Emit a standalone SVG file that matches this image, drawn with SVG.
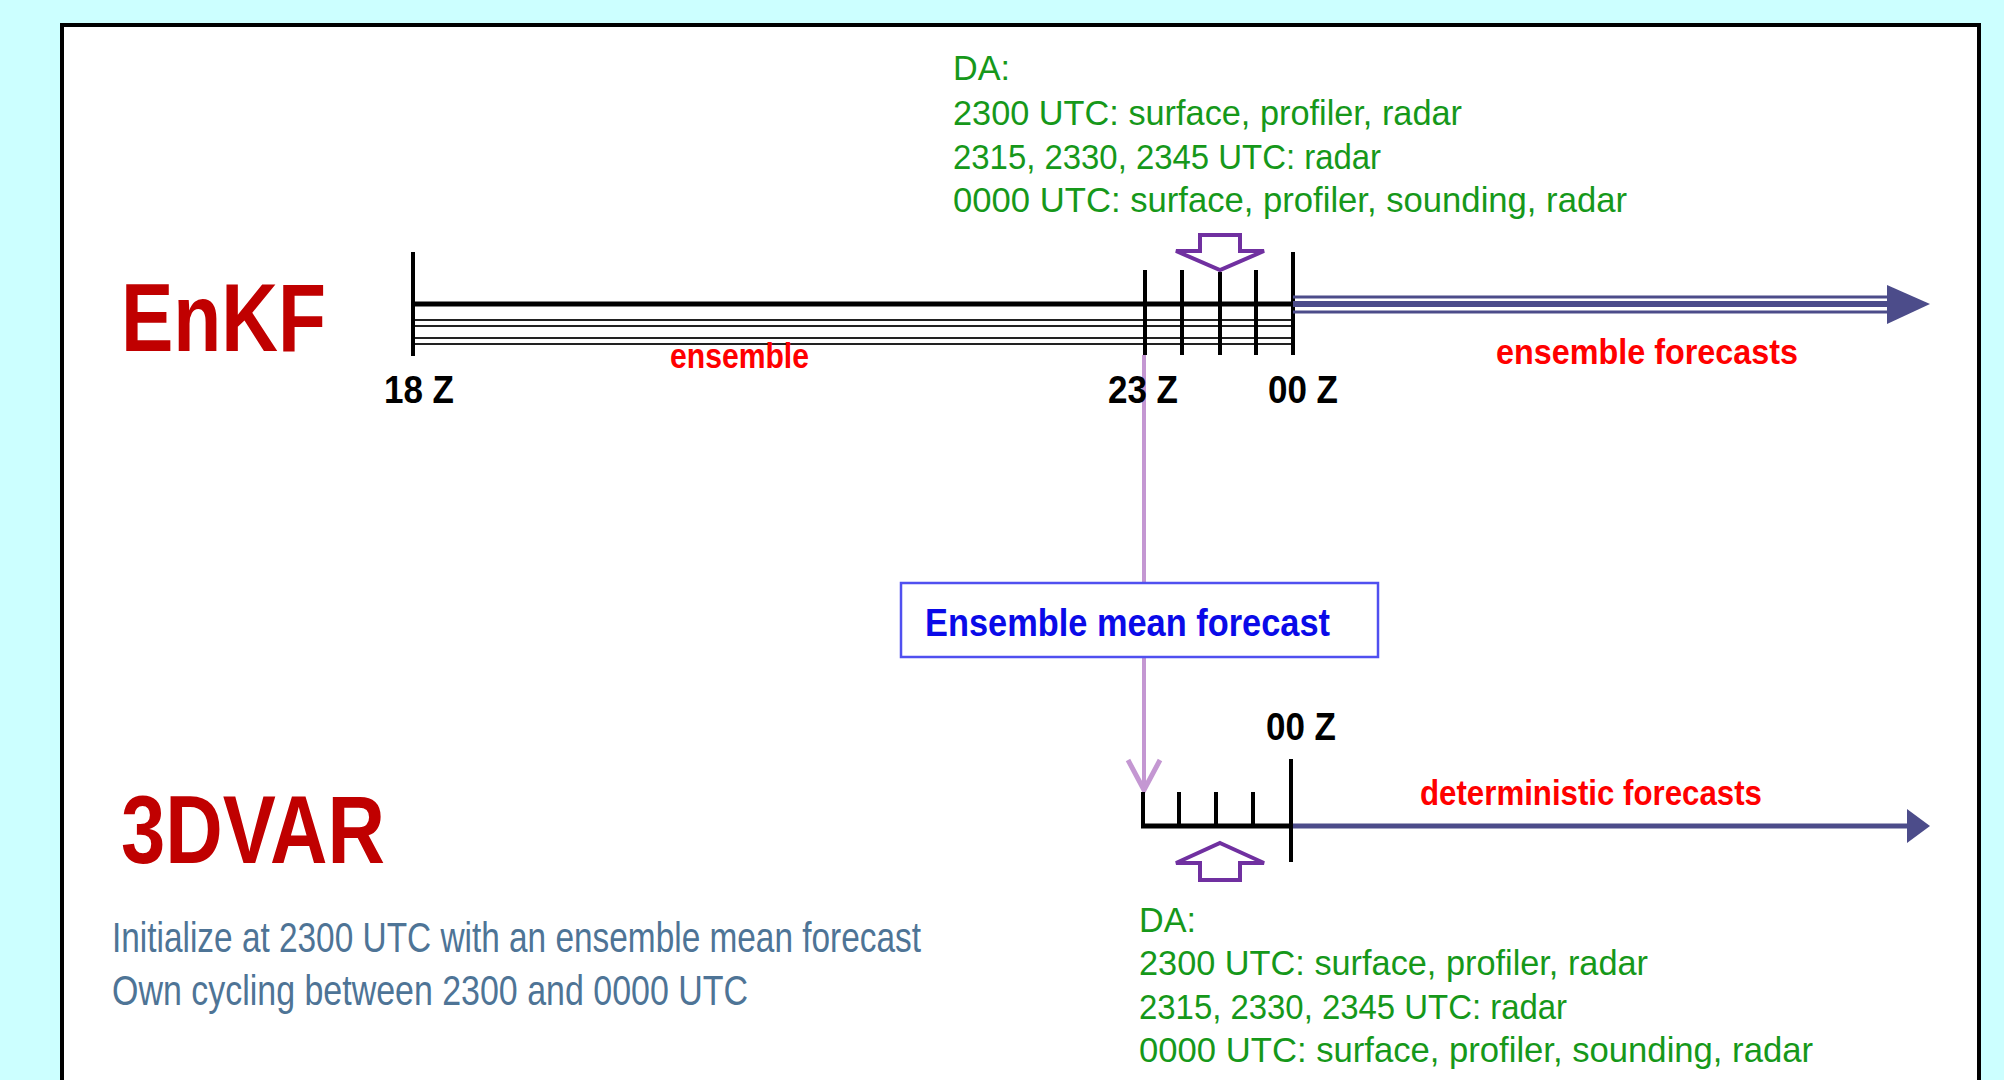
<svg xmlns="http://www.w3.org/2000/svg" width="2004" height="1080" viewBox="0 0 2004 1080">
<defs>
<style>
text{font-family:"Liberation Sans",Arial,sans-serif;}
.title{font-size:96px;font-weight:bold;fill:#C00000;}
.zlab{font-size:38px;font-weight:bold;fill:#000;}
.da{font-size:35px;fill:#16981A;}
.red{font-size:35px;font-weight:bold;fill:#FF0000;}
.note{font-size:42px;fill:#4E7496;}
.tick{stroke:#000;stroke-width:4;}
.ens{stroke:#222;stroke-width:2;}
.blue{stroke:#4C4C8A;}
.hollow{fill:#fff;stroke:#7030A0;stroke-width:4;stroke-linejoin:miter;}
.conn{stroke:#C497D2;stroke-width:4;fill:none;}
</style>
<marker id="openArrow" markerUnits="userSpaceOnUse" markerWidth="40" markerHeight="40" viewBox="0 0 40 40" refX="36" refY="20" orient="auto">
<path d="M6,4 L36,20 L6,36" fill="none" stroke="#C497D2" stroke-width="5"/>
</marker>
</defs>
<rect x="0" y="0" width="2004" height="1080" fill="#CCFFFF"/>
<rect x="62" y="25" width="1917" height="1100" fill="#fff" stroke="#000" stroke-width="4"/>

<g id="connectors">
<line class="conn" x1="1144" y1="355" x2="1144" y2="583"/>
<line class="conn" x1="1144" y1="657" x2="1144" y2="790" marker-end="url(#openArrow)"/>
</g>

<g id="enkf-title">
<text class="title" x="121" y="351" textLength="205" lengthAdjust="spacingAndGlyphs">EnKF</text>
</g>

<g id="enkf-timeline">
<line x1="413" y1="304" x2="1293" y2="304" stroke="#000" stroke-width="5"/>
<line class="ens" x1="413" y1="320" x2="1293" y2="320"/>
<line class="ens" x1="413" y1="326" x2="1293" y2="326"/>
<line class="ens" x1="413" y1="338" x2="1293" y2="338"/>
<line class="ens" x1="413" y1="344" x2="1293" y2="344"/>
<line class="tick" x1="413" y1="252" x2="413" y2="356" stroke-width="5"/>
<line class="tick" x1="1145" y1="270" x2="1145" y2="355" stroke-width="3"/>
<line class="tick" x1="1182" y1="270" x2="1182" y2="355"/>
<line class="tick" x1="1220" y1="272" x2="1220" y2="355" stroke-width="5"/>
<line class="tick" x1="1256" y1="270" x2="1256" y2="355" stroke-width="5"/>
<line class="tick" x1="1293" y1="252" x2="1293" y2="355" stroke-width="3"/>
<line class="blue" x1="1293" y1="297" x2="1890" y2="297" stroke-width="3"/>
<line class="blue" x1="1293" y1="304" x2="1890" y2="304" stroke-width="6"/>
<line class="blue" x1="1293" y1="312" x2="1890" y2="312" stroke-width="3"/>
<polygon points="1887,285 1930,304 1887,324" fill="#4C4C8A"/>
<text class="zlab" x="384" y="403" textLength="70" lengthAdjust="spacingAndGlyphs">18 Z</text>
<text class="zlab" x="1108" y="403" textLength="70" lengthAdjust="spacingAndGlyphs">23 Z</text>
<text class="zlab" x="1268" y="403" textLength="70" lengthAdjust="spacingAndGlyphs">00 Z</text>
<text class="red" x="670" y="368" textLength="139" lengthAdjust="spacingAndGlyphs">ensemble</text>
<text class="red" x="1496" y="364" textLength="302" lengthAdjust="spacingAndGlyphs">ensemble forecasts</text>
</g>

<g id="da-top">
<text class="da" x="953" y="80" textLength="57" lengthAdjust="spacingAndGlyphs">DA:</text>
<text class="da" x="953" y="125" textLength="509" lengthAdjust="spacingAndGlyphs">2300 UTC: surface, profiler, radar</text>
<text class="da" x="953" y="169" textLength="428" lengthAdjust="spacingAndGlyphs">2315, 2330, 2345 UTC: radar</text>
<text class="da" x="953" y="212" textLength="674" lengthAdjust="spacingAndGlyphs">0000 UTC: surface, profiler, sounding, radar</text>
</g>

<g id="da-arrow-top">
<polygon class="hollow" points="1200,235 1240,235 1240,251 1264,251 1220,270 1176,251 1200,251"/>
</g>

<g id="ensemble-mean-box">
<rect x="901" y="583" width="477" height="74" fill="#fff" stroke="#5050F0" stroke-width="2.5"/>
<text x="925" y="636" font-size="39" font-weight="bold" fill="#0A0AE8" textLength="405" lengthAdjust="spacingAndGlyphs">Ensemble mean forecast</text>
</g>

<g id="dvar-title">
<text class="title" x="121" y="863" textLength="264" lengthAdjust="spacingAndGlyphs">3DVAR</text>
<text class="note" x="112" y="952" textLength="809" lengthAdjust="spacingAndGlyphs">Initialize at 2300 UTC with an ensemble mean forecast</text>
<text class="note" x="112" y="1005" textLength="636" lengthAdjust="spacingAndGlyphs">Own cycling between 2300 and 0000 UTC</text>
</g>

<g id="dvar-timeline">
<line x1="1141" y1="826" x2="1291" y2="826" stroke="#000" stroke-width="5"/>
<line class="tick" x1="1143" y1="792" x2="1143" y2="828"/>
<line class="tick" x1="1179" y1="792" x2="1179" y2="828"/>
<line class="tick" x1="1216" y1="792" x2="1216" y2="828"/>
<line class="tick" x1="1253" y1="792" x2="1253" y2="828"/>
<line class="blue" x1="1291" y1="826" x2="1910" y2="826" stroke-width="5"/>
<polygon points="1907,809 1930,826 1907,843" fill="#4C4C8A"/>
<line class="tick" x1="1291" y1="759" x2="1291" y2="862"/>
<text class="zlab" x="1266" y="740" textLength="70" lengthAdjust="spacingAndGlyphs">00 Z</text>
<text class="red" x="1420" y="805" textLength="342" lengthAdjust="spacingAndGlyphs">deterministic forecasts</text>
</g>

<g id="da-arrow-bottom">
<polygon class="hollow" points="1220,843 1264,863 1240,863 1240,880 1200,880 1200,863 1176,863"/>
</g>

<g id="da-bottom">
<text class="da" x="1139" y="932" textLength="57" lengthAdjust="spacingAndGlyphs">DA:</text>
<text class="da" x="1139" y="975" textLength="509" lengthAdjust="spacingAndGlyphs">2300 UTC: surface, profiler, radar</text>
<text class="da" x="1139" y="1019" textLength="428" lengthAdjust="spacingAndGlyphs">2315, 2330, 2345 UTC: radar</text>
<text class="da" x="1139" y="1062" textLength="674" lengthAdjust="spacingAndGlyphs">0000 UTC: surface, profiler, sounding, radar</text>
</g>
</svg>
